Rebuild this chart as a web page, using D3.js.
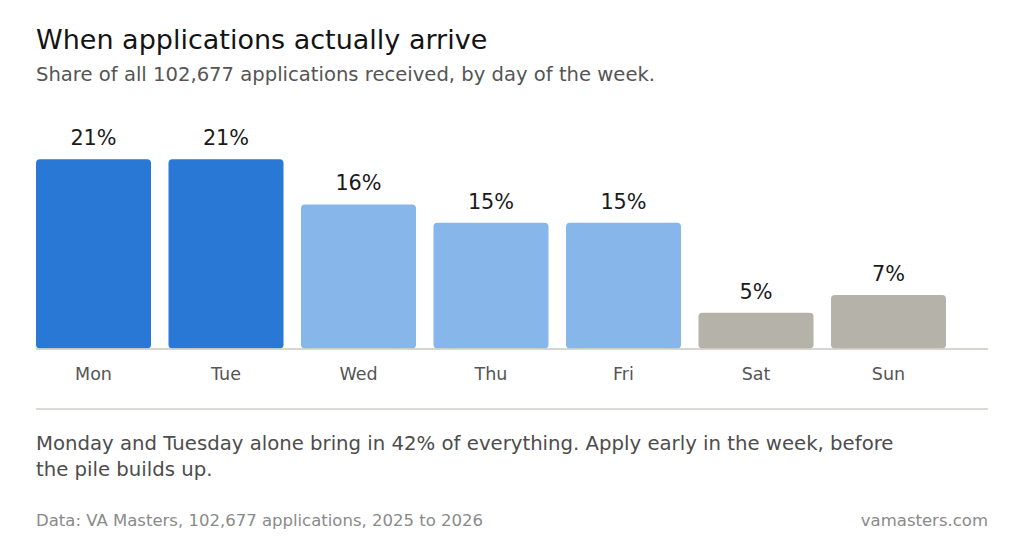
<!DOCTYPE html>
<html>
<head>
<meta charset="utf-8">
<script src="https://cdn.jsdelivr.net/npm/d3@7"></script>
<style>
  html, body { margin: 0; padding: 0; background: #ffffff; }
  svg { display: block; font-family: "DejaVu Sans", sans-serif; }
</style>
</head>
<body>
<svg id="chart" width="1024" height="551"></svg>
<script>
// ---- data ----
const days = ["Mon", "Tue", "Wed", "Thu", "Fri", "Sat", "Sun"];
const shares = [21.08, 21.08, 16.06, 14.03, 14.03, 4.03, 6.0];
const shareLabels = ["21%", "21%", "16%", "15%", "15%", "5%", "7%"];
const groups = ["peak", "peak", "mid", "mid", "mid", "weekend", "weekend"];

const titleText = "When applications actually arrive";
const subtitleText = "Share of all 102,677 applications received, by day of the week.";
const noteLines = [
  "Monday and Tuesday alone bring in 42% of everything. Apply early in the week, before",
  "the pile builds up."
];
const sourceText = "Data: VA Masters, 102,677 applications, 2025 to 2026";
const creditText = "vamasters.com";

// ---- layout ----
const svg = d3.select("#chart");
const left = 36, right = 988;
const baseY = 349;

const colors = { peak: "#2a78d6", mid: "#86b6ea", weekend: "#b5b2aa" };

svg.append("text").attr("x", left).attr("y", 48.5)
  .attr("font-size", 27).attr("fill", "#141414").text(titleText);
svg.append("text").attr("x", left).attr("y", 81)
  .attr("font-size", 19.6).attr("fill", "#555555").text(subtitleText);

const x = d3.scaleBand().domain(days).range([left, 946]).paddingInner(0.132).paddingOuter(0);
const y = d3.scaleLinear().domain([0, 22]).range([baseY, baseY - 198]);

const data = days.map((d, i) => ({ day: d, v: shares[i], label: shareLabels[i], g: groups[i] }));

svg.append("g").selectAll("rect").data(data).join("rect")
  .attr("x", d => x(d.day))
  .attr("y", d => y(d.v))
  .attr("width", x.bandwidth())
  .attr("height", d => y(0) - y(d.v) - 0.5)
  .attr("rx", 4).attr("ry", 4)
  .attr("fill", d => colors[d.g]);

svg.append("g").selectAll("text").data(data).join("text")
  .attr("x", d => x(d.day) + x.bandwidth() / 2)
  .attr("y", d => y(d.v) - 14)
  .attr("text-anchor", "middle")
  .attr("font-size", 20.8).attr("fill", "#1a1a1a")
  .text(d => d.label);

// x axis via d3 axis
const xAxis = svg.append("g").attr("transform", `translate(0,${baseY})`)
  .call(d3.axisBottom(x).tickSize(0).tickPadding(0));
xAxis.select(".domain").remove();
xAxis.selectAll("text")
  .attr("y", 31)
  .attr("dy", 0)
  .attr("font-size", 17.5)
  .attr("font-family", "DejaVu Sans, sans-serif")
  .attr("fill", "#555555");

svg.append("line").attr("x1", left).attr("x2", right).attr("y1", baseY).attr("y2", baseY)
  .attr("stroke", "#c9c7c0").attr("stroke-width", 1.5);

svg.append("line").attr("x1", left).attr("x2", right).attr("y1", 409).attr("y2", 409)
  .attr("stroke", "#cfcdc8").attr("stroke-width", 1.5);

svg.append("g").selectAll("text").data(noteLines).join("text")
  .attr("x", left).attr("y", (d, i) => 449.5 + i * 26)
  .attr("font-size", 19.7).attr("fill", "#4d4d4d")
  .text(d => d);

svg.append("text").attr("x", left).attr("y", 526)
  .attr("font-size", 16.5).attr("fill", "#8a8a8a").text(sourceText);
svg.append("text").attr("x", right).attr("y", 526).attr("text-anchor", "end")
  .attr("font-size", 16.5).attr("fill", "#8a8a8a").text(creditText);
</script>
</body>
</html>
